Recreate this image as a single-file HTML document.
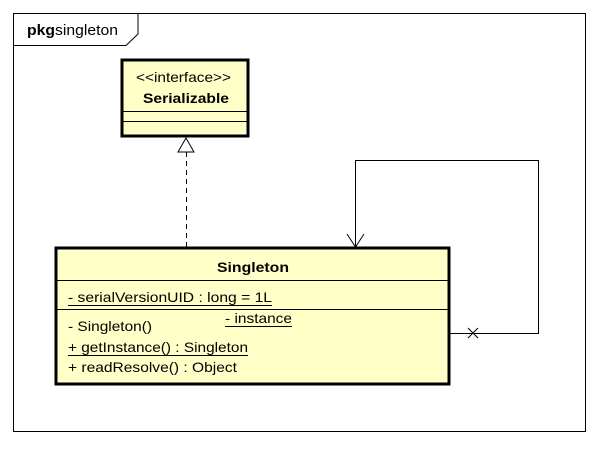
<!DOCTYPE html><html><head><style>body{margin:0;background:#fff}</style></head><body>
<svg width="598" height="444" xmlns="http://www.w3.org/2000/svg" font-family="Liberation Sans, sans-serif" font-size="14">
<rect x="0" y="0" width="598" height="444" fill="#fff"/>
<rect x="13.5" y="13.5" width="572" height="418" fill="none" stroke="#000"/>
<path d="M13.5 45.5 H126 L138 34 V13.5" fill="none" stroke="#000"/>
<text x="27" y="35" font-size="15" textLength="91" lengthAdjust="spacingAndGlyphs"><tspan font-weight="bold">pkg</tspan>singleton</text>
<rect x="122" y="60" width="126" height="76" fill="#ffffc8" stroke="#000" stroke-width="3"/>
<line x1="122" y1="111.5" x2="248" y2="111.5" stroke="#000"/>
<line x1="122" y1="121.5" x2="248" y2="121.5" stroke="#000"/>
<text x="136" y="82" textLength="95" lengthAdjust="spacingAndGlyphs">&lt;&lt;interface&gt;&gt;</text>
<text x="143" y="103" font-weight="bold" textLength="86" lengthAdjust="spacingAndGlyphs">Serializable</text>
<path d="M186 138 L178 152 H194 Z" fill="#fff" stroke="#000"/>
<line x1="186.5" y1="152" x2="186.5" y2="247" stroke="#000" stroke-dasharray="5,4"/>
<rect x="56" y="248" width="393" height="136" fill="#ffffc8" stroke="#000" stroke-width="3"/>
<line x1="56" y1="280.5" x2="449" y2="280.5" stroke="#000"/>
<line x1="56" y1="309.5" x2="449" y2="309.5" stroke="#000"/>
<text x="217" y="272" font-weight="bold" textLength="72" lengthAdjust="spacingAndGlyphs">Singleton</text>
<text x="68" y="302" textLength="204" lengthAdjust="spacingAndGlyphs">- serialVersionUID : long = 1L</text>
<line x1="68" y1="305.5" x2="272" y2="305.5" stroke="#000"/>
<text x="68" y="331" textLength="84" lengthAdjust="spacingAndGlyphs">- Singleton()</text>
<text x="68" y="352" textLength="180" lengthAdjust="spacingAndGlyphs">+ getInstance() : Singleton</text>
<line x1="68" y1="355.5" x2="248" y2="355.5" stroke="#000"/>
<text x="68" y="372" textLength="169" lengthAdjust="spacingAndGlyphs">+ readResolve() : Object</text>
<text x="225" y="323" textLength="67" lengthAdjust="spacingAndGlyphs">- instance</text>
<line x1="225" y1="326.5" x2="292" y2="326.5" stroke="#000"/>
<path d="M449 333.5 H538.5 V160.5 H355.5 V247" fill="none" stroke="#000"/>
<path d="M347 234 L355.5 247 L364 234" fill="none" stroke="#000"/>
<path d="M468 328 L478 338 M478 328 L468 338" stroke="#000"/>
</svg></body></html>
